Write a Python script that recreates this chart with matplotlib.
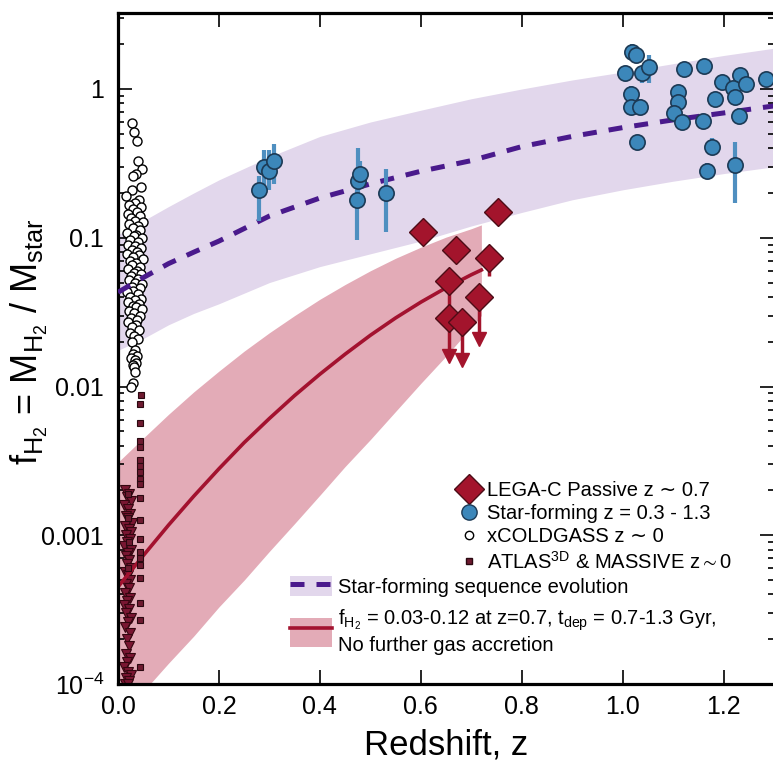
import numpy as np
import matplotlib
matplotlib.use("Agg")
import matplotlib.pyplot as plt
from matplotlib.lines import Line2D
from matplotlib.patches import Patch
from matplotlib.ticker import FixedLocator, FixedFormatter, LogLocator, NullFormatter

plt.rcParams['font.family'] = ['Liberation Sans', 'DejaVu Sans']
plt.rcParams['mathtext.fontset'] = 'custom'
plt.rcParams['mathtext.rm'] = 'Liberation Sans'
plt.rcParams['mathtext.it'] = 'Liberation Sans:italic'
plt.rcParams['mathtext.bf'] = 'Liberation Sans:bold'
plt.rcParams['mathtext.fallback'] = 'stixsans'

# star-forming sequence evolution (dashed line and band)
sfs_z = [0.0, 0.05, 0.1, 0.15, 0.2, 0.3, 0.4, 0.5, 0.6, 0.7, 0.8, 0.9, 1.0, 1.1, 1.2, 1.3]
sfs_mid = [0.043, 0.054, 0.067, 0.08, 0.095, 0.14, 0.185, 0.23, 0.28, 0.33, 0.41, 0.48, 0.55, 0.62, 0.69, 0.77]
sfs_hi = [0.105, 0.13, 0.162, 0.2, 0.245, 0.35, 0.48, 0.6, 0.72, 0.86, 1.0, 1.15, 1.3, 1.48, 1.68, 1.88]
sfs_lo = [0.0175, 0.021, 0.026, 0.031, 0.036, 0.05, 0.064, 0.078, 0.095, 0.12, 0.148, 0.18, 0.21, 0.24, 0.27, 0.30]

# passive evolution without further accretion (solid line and band)
ev_z = [0.0, 0.05, 0.1, 0.15, 0.2, 0.25, 0.3, 0.35, 0.4, 0.45, 0.5, 0.55, 0.6, 0.65, 0.7, 0.72]
ev_mid = [0.00045, 0.00073, 0.00117, 0.00183, 0.0028, 0.0042, 0.0061, 0.0087, 0.0121, 0.0165,
          0.0221, 0.0289, 0.0369, 0.0461, 0.0564, 0.0607]
ev_hi = [0.0031, 0.0045, 0.0065, 0.0092, 0.0127, 0.0173, 0.023, 0.030, 0.0386, 0.0485,
         0.060, 0.0728, 0.0864, 0.101, 0.115, 0.122]
ev_lo = [0.000057, 0.000089, 0.000138, 0.00021, 0.00033, 0.0005, 0.00078, 0.0012, 0.00186, 0.0029,
         0.0044, 0.0068, 0.0105, 0.016, 0.025, 0.03]

# star-forming galaxies z = 0.3 - 1.3
sf_z = [0.28, 0.29, 0.30, 0.31, 0.473, 0.475, 0.479, 0.53,
        1.018, 1.026, 1.004, 1.038, 1.053, 1.016, 1.016, 1.034, 1.028,
        1.121, 1.162, 1.109, 1.109, 1.101, 1.117, 1.160, 1.182, 1.196, 1.176, 1.168,
        1.232, 1.218, 1.244, 1.222, 1.230, 1.222, 1.283]
sf_f = [0.21, 0.30, 0.28, 0.33, 0.18, 0.24, 0.27, 0.20,
        1.77, 1.69, 1.28, 1.28, 1.41, 0.93, 0.76, 0.76, 0.44,
        1.36, 1.43, 0.95, 0.82, 0.69, 0.60, 0.61, 0.86, 1.11, 0.41, 0.28,
        1.24, 1.02, 1.08, 0.88, 0.66, 0.31, 1.17]
sf_lo = [0.13, 0.22, 0.21, 0.23, 0.097, 0.20, 0.22, 0.11,
         1.55, 1.5, 1.15, 1.1, 1.1, 0.75, 0.68, 0.68, 0.40,
         1.22, 1.3, 0.85, 0.74, 0.62, 0.54, 0.55, 0.78, 1.0, 0.36, 0.25,
         1.12, 0.92, 0.98, 0.8, 0.6, 0.17, 1.06]
sf_hi = [0.26, 0.39, 0.39, 0.43, 0.22, 0.40, 0.33, 0.29,
         2.0, 1.9, 1.42, 1.42, 1.7, 1.05, 0.85, 0.85, 0.49,
         1.5, 1.58, 1.05, 0.9, 0.76, 0.66, 0.67, 0.95, 1.22, 0.47, 0.32,
         1.36, 1.12, 1.18, 0.97, 0.73, 0.44, 1.28]

# xCOLDGASS z ~ 0
cg_z = [0.028, 0.032, 0.037, 0.040, 0.048, 0.035, 0.030, 0.045, 0.027, 0.016,
        0.041, 0.033, 0.022, 0.046, 0.030, 0.038, 0.019, 0.043, 0.026, 0.034,
        0.049, 0.021, 0.039, 0.029, 0.044, 0.017, 0.036, 0.031, 0.047, 0.024,
        0.040, 0.020, 0.033, 0.045, 0.027, 0.038, 0.018, 0.042, 0.030, 0.049,
        0.023, 0.035, 0.028, 0.044, 0.019, 0.037, 0.032, 0.046, 0.025, 0.040,
        0.021, 0.034, 0.048, 0.027, 0.043, 0.030, 0.017, 0.039, 0.024, 0.045,
        0.033, 0.020, 0.041, 0.029, 0.036, 0.047, 0.022, 0.031, 0.043, 0.026,
        0.038, 0.019, 0.035, 0.028, 0.042, 0.024, 0.032, 0.039, 0.027, 0.034,
        0.030, 0.038, 0.025, 0.033, 0.036, 0.029, 0.031, 0.034, 0.030, 0.026]
cg_f = [0.59, 0.51, 0.45, 0.33, 0.29, 0.27, 0.26, 0.22, 0.21, 0.19,
        0.18, 0.17, 0.165, 0.16, 0.155, 0.15, 0.145, 0.14, 0.135, 0.13,
        0.127, 0.123, 0.12, 0.116, 0.112, 0.108, 0.105, 0.102, 0.099, 0.096,
        0.093, 0.09, 0.088, 0.085, 0.083, 0.08, 0.078, 0.076, 0.074, 0.072,
        0.07, 0.068, 0.066, 0.064, 0.062, 0.06, 0.058, 0.057, 0.055, 0.053,
        0.052, 0.05, 0.049, 0.047, 0.046, 0.044, 0.043, 0.042, 0.04, 0.039,
        0.038, 0.037, 0.036, 0.035, 0.034, 0.033, 0.032, 0.031, 0.03, 0.029,
        0.028, 0.027, 0.026, 0.025, 0.024, 0.023, 0.022, 0.021, 0.02, 0.0175,
        0.0165, 0.016, 0.0155, 0.015, 0.0145, 0.014, 0.0135, 0.0125, 0.0105, 0.0099]

# ATLAS3D & MASSIVE z ~ 0: detections and upper limits
at_z = [0.045, 0.044, 0.044, 0.044, 0.044, 0.044, 0.044, 0.044, 0.044, 0.044,
        0.044, 0.044, 0.044, 0.044, 0.044, 0.044, 0.044, 0.044, 0.044, 0.044,
        0.020, 0.019, 0.021, 0.020]
at_f = [0.0088, 0.0076, 0.0057, 0.0043, 0.0039, 0.0032, 0.0029, 0.00265, 0.0024, 0.0022,
        0.00177, 0.00126, 0.00094, 0.00077, 0.0007, 0.00063, 0.00052, 0.00035, 0.00027, 0.00013,
        0.0019, 0.0013, 0.0009, 0.0006]
ul_z = [0.014, 0.022, 0.017, 0.026, 0.012, 0.020, 0.024, 0.015, 0.019, 0.027,
        0.013, 0.021, 0.025, 0.016, 0.023, 0.018, 0.012, 0.026, 0.020, 0.015,
        0.022, 0.017, 0.025, 0.013, 0.019, 0.023, 0.016, 0.021, 0.014, 0.024,
        0.018, 0.012, 0.022, 0.016, 0.026, 0.019, 0.013, 0.023, 0.017, 0.021,
        0.015, 0.024, 0.018, 0.012, 0.020, 0.025, 0.016, 0.022, 0.014, 0.019]
ul_f = [0.0020, 0.0019, 0.0018, 0.0017, 0.0016, 0.0015, 0.0014, 0.00135, 0.0013, 0.0012,
        0.00115, 0.0011, 0.00105, 0.001, 0.00095, 0.0009, 0.00085, 0.0008, 0.00076, 0.00072,
        0.00068, 0.00064, 0.0006, 0.00057, 0.00054, 0.0005, 0.00047, 0.00044, 0.00041, 0.00038,
        0.00036, 0.00034, 0.00032, 0.0003, 0.00028, 0.00026, 0.00024, 0.00022, 0.0002, 0.00018,
        0.00016, 0.00015, 0.00014, 0.00013, 0.00012, 0.000115, 0.00011, 0.000105, 0.0001, 0.0001]

# LEGA-C passive galaxies z ~ 0.7 (lg_low: end of error bar or arrow tip)
lg_z = [0.604, 0.669, 0.752, 0.735, 0.655, 0.655, 0.681, 0.715]
lg_f = [0.110, 0.083, 0.149, 0.073, 0.051, 0.029, 0.027, 0.040]
lg_low = [0.110, 0.083, 0.149, 0.055, 0.030, 0.016, 0.015, 0.021]
lg_limit = [False, False, False, False, False, True, True, True]

purple_band = '#e2d7ec'
purple_line = '#4a1a8c'
pink_band = '#e3abb7'
red_line = '#a3122f'
blue = '#3c87ba'
blue_edge = '#1c3a55'
blue_bar = '#4f8fc0'
lega_red = '#a3142c'
lega_edge = '#4d0c16'
atlas_red = '#6e1a30'

fig = plt.figure(figsize=(7.73, 7.63), dpi=100)
ax = fig.add_axes([0.1527, 0.1035, 0.8487, 0.8794])

ax.fill_between(sfs_z, sfs_lo, sfs_hi, color=purple_band, lw=0, zorder=1)
ax.fill_between(ev_z, ev_lo, ev_hi, color=pink_band, lw=0, zorder=1)

ax.plot(cg_z, cg_f, 'o', ms=6.5, mfc='white', mec='black', mew=1.0, zorder=2)
ax.plot(ul_z, ul_f, 'v', ms=6.5, mfc='#7a1632', mec='#350610', mew=0.8, zorder=2)
ax.plot(at_z, at_f, 's', ms=5, mfc=atlas_red, mec='#2a0810', mew=0.8, zorder=2.2)

ax.plot(sfs_z, sfs_mid, color=purple_line, lw=3.6, dashes=(2.8, 2.4), zorder=3)
ax.plot(ev_z, ev_mid, color=red_line, lw=2.6, zorder=2.1)

ax.vlines(sf_z, sf_lo, sf_hi, color=blue_bar, lw=3, zorder=4)
ax.plot(sf_z, sf_f, 'o', ms=11, mfc=blue, mec=blue_edge, mew=1.2, zorder=5)

lg_z = np.array(lg_z)
lg_low = np.array(lg_low)
lim = np.array(lg_limit)
ax.vlines(lg_z, lg_low, lg_f, color=lega_red, lw=2.5, zorder=4)
ax.plot(lg_z[lim], lg_low[lim], 'v', ms=10, color=lega_red, zorder=4)
ax.plot(lg_z, lg_f, 'D', ms=14, mfc=lega_red, mec=lega_edge, mew=1.0, zorder=6)

# axes
ax.set_xlim(0, 1.3)
ax.set_yscale('log')
ax.set_ylim(1e-4, 3.24)
ax.set_xticks([0.0, 0.2, 0.4, 0.6, 0.8, 1.0, 1.2])
ax.set_xticklabels(['0.0', '0.2', '0.4', '0.6', '0.8', '1.0', '1.2'])
ax.yaxis.set_major_locator(FixedLocator([1e-4, 1e-3, 1e-2, 1e-1, 1]))
ax.yaxis.set_major_formatter(FixedFormatter(['10$^{-4}$', '0.001', '0.01', '0.1', '1']))
ax.yaxis.set_minor_locator(LogLocator(base=10, subs=np.arange(2, 10)))
ax.yaxis.set_minor_formatter(NullFormatter())
ax.tick_params(which='both', direction='in', top=True, right=True, width=1.2, labelsize=18)
ax.tick_params(which='major', length=10)
ax.tick_params(which='minor', length=4.5)
ax.tick_params(axis='y', pad=10)
ax.tick_params(axis='x', pad=8)
for s in ax.spines.values():
    s.set_linewidth(2.3)

ax.set_xlabel('Redshift, z', fontsize=25, labelpad=7)
ax.set_ylabel(r'f$_{\mathrm{H}_2}$ = M$_{\mathrm{H}_2}$ / M$_{\mathrm{star}}$', fontsize=26)
ax.yaxis.set_label_coords(-0.104, 0.51)

# legends
h1 = [Line2D([], [], ls='none', marker='D', ms=15, mfc=lega_red, mec=lega_edge),
      Line2D([], [], ls='none', marker='o', ms=11, mfc=blue, mec=blue_edge),
      Line2D([], [], ls='none', marker='o', ms=6, mfc='white', mec='black'),
      Line2D([], [], ls='none', marker='s', ms=5, mfc=atlas_red, mec='#2a0810')]
l1 = ['LEGA-C Passive z \u223c 0.7',
      'Star-forming z = 0.3 - 1.3',
      'xCOLDGASS z \u223c 0',
      'ATLAS$^{\\mathrm{3D}}$ & MASSIVE z$\\sim$0']
leg1 = ax.legend(h1, l1, loc='upper left', bbox_to_anchor=(0.52, 0.302), frameon=False,
                 fontsize=14.5, handlelength=0.95, handletextpad=0.45, labelspacing=0.2,
                 borderpad=0, borderaxespad=0)
ax.add_artist(leg1)

h2a = [(Patch(fc=purple_band, ec='none'),
        Line2D([], [], color=purple_line, lw=3.6, dashes=(2.8, 2.4)))]
leg2a = ax.legend(h2a, ['Star-forming sequence evolution'], loc='upper left',
                  bbox_to_anchor=(0.262, 0.161), frameon=False, fontsize=14.5,
                  handlelength=2.1, handleheight=1.15, handletextpad=0.3,
                  borderpad=0, borderaxespad=0)
ax.add_artist(leg2a)

h2b = [(Patch(fc=pink_band, ec='none'), Line2D([], [], color=red_line, lw=2.6))]
l2b = ['f$_{\\mathrm{H}_2}$ = 0.03-0.12 at z=0.7, t$_{\\mathrm{dep}}$ = 0.7-1.3 Gyr,\nNo further gas accretion']
ax.legend(h2b, l2b, loc='upper left', bbox_to_anchor=(0.262, 0.114), frameon=False,
          fontsize=14.5, handlelength=2.1, handleheight=1.8, handletextpad=0.3,
          borderpad=0, borderaxespad=0)

fig.savefig('out.png', dpi=100)
